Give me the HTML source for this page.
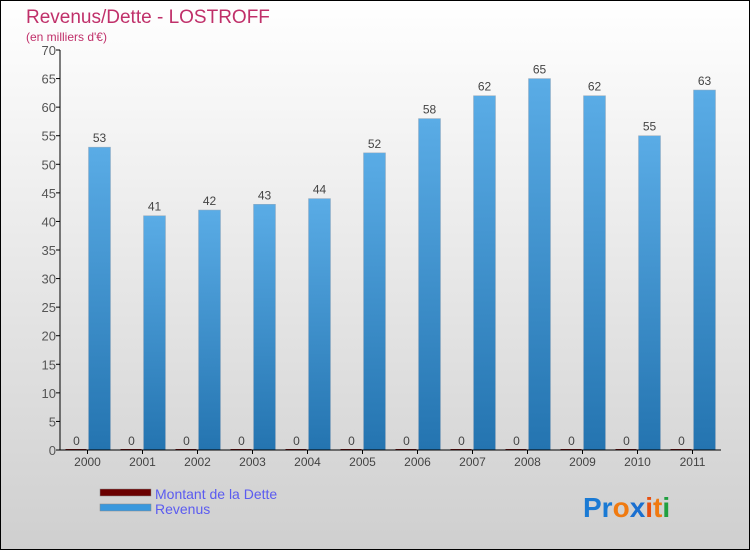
<!DOCTYPE html>
<html><head><meta charset="utf-8"><style>
body{margin:0;width:750px;height:550px;overflow:hidden}
svg{display:block}
text{font-family:"Liberation Sans",sans-serif}
</style></head><body>
<svg width="750" height="550">
<defs>
<linearGradient id="bg" x1="0" y1="0" x2="0" y2="1"><stop offset="0" stop-color="#ffffff"/><stop offset="1" stop-color="#cfcfcf"/></linearGradient>
<linearGradient id="rev" x1="0" y1="0" x2="0" y2="1"><stop offset="0" stop-color="#5aace6"/><stop offset="1" stop-color="#2474b0"/></linearGradient>
</defs>
<rect x="0.5" y="0.5" width="749" height="549" fill="url(#bg)" stroke="#000"/>
<text x="26" y="23" font-size="19" fill="#c0306a">Revenus/Dette - LOSTROFF</text>
<text x="26" y="41" font-size="12" fill="#c0306a">(en milliers d'€)</text>
<g id="plot"></g>
<g>
<rect x="100" y="489" width="51" height="7" fill="#6b0000" stroke="#888" stroke-width="0.5"/>
<text x="155" y="499" font-size="14" fill="#5b5bf0">Montant de la Dette</text>
<rect x="100" y="504" width="51" height="7" fill="#3a98dd" stroke="#888" stroke-width="0.5"/>
<text x="155" y="514" font-size="14" fill="#5b5bf0">Revenus</text>
</g>
<g font-size="28" font-weight="bold">
<text x="583" y="517"><tspan fill="#1a7ad4">Pr</tspan><tspan fill="#f07a10">o</tspan><tspan fill="#1a6fd0">x</tspan><tspan fill="#e85010">i</tspan><tspan fill="#f07a10">t</tspan><tspan fill="#20a040">i</tspan></text>
</g>
</svg>
<script>
const years=["2000","2001","2002","2003","2004","2005","2006","2007","2008","2009","2010","2011"];
const dette=[0,0,0,0,0,0,0,0,0,0,0,0];
const revenus=[53,41,42,43,44,52,58,62,65,62,55,63];
const yTicks=[0,5,10,15,20,25,30,35,40,45,50,55,60,65,70];
const NS="http://www.w3.org/2000/svg";
const g=document.getElementById('plot');
const X0=60,X1=720,Y0=450,Y1=50,YMAX=70;
const bw=(X1-X0)/years.length;
const y=v=>Y0-(v/YMAX)*(Y0-Y1);
const xc=i=>X0+bw*(i+0.5);
function mk(t,a,txt){const e=document.createElementNS(NS,t);for(const k in a)e.setAttribute(k,a[k]);if(txt!==undefined)e.textContent=txt;g.appendChild(e);return e;}
yTicks.forEach(v=>{
 const l=mk('line',{x1:X0-4,x2:X0,y1:y(v),y2:y(v),stroke:'#000'});
 
 
 const t=mk('text',{x:X0-4,y:y(v)+5,'text-anchor':'end','font-size':13,fill:'#555'},v);
 
 
});
years.forEach((yr,i)=>{
 const c=xc(i);
 const d=mk('rect',{x:c-22,y:y(dette[i])-1,width:21,height:Math.max(1,Y0-y(dette[i])),fill:'#7a1010'});
 
 
 const dl=mk('text',{x:c-11,y:y(dette[i])-5,'text-anchor':'middle','font-size':12,fill:'#444'},dette[i]);
 
 
 const r=mk('rect',{x:c+1,y:y(revenus[i]),width:22,height:Y0-y(revenus[i]),fill:'url(#rev)',stroke:'#9ab',"stroke-width":0.5});
 
 
 const rl=mk('text',{x:c+12,y:y(revenus[i])-5,'text-anchor':'middle','font-size':12,fill:'#444'},revenus[i]);
 
 
 const tk=mk('line',{x1:c,x2:c,y1:Y0,y2:Y0+4,stroke:'#000'});
 
 
 const xl=mk('text',{x:c,y:Y0+16,'text-anchor':'middle','font-size':12,fill:'#444'},yr);
 
 
});
const ya=mk('line',{x1:X0,x2:X0,y1:Y1,y2:Y0,stroke:'#000'});


const xa=mk('line',{x1:X0,x2:X1+1,y1:Y0,y2:Y0,stroke:'#000'});


</script>
</body></html>
